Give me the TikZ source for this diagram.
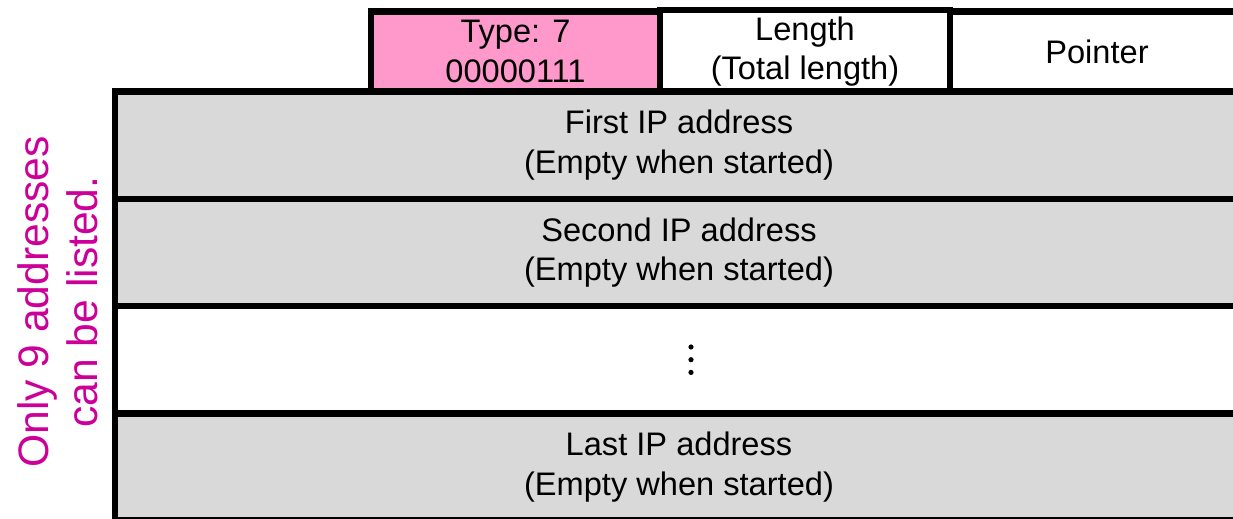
\documentclass[tikz,border=0pt]{standalone}
\usepackage{fontspec}
\setmainfont{Liberation Sans}
\usepackage{tikz}
\usepackage{xcolor}
\definecolor{typepink}{HTML}{FF99CC}
\definecolor{rowgray}{HTML}{D9D9D9}
\definecolor{notemagenta}{HTML}{CC0099}

\begin{document}
\begin{tikzpicture}[x=0.5pt,y=0.5pt,
    cell/.style={draw, line width=3.2pt, outer sep=0pt, align=center,
      minimum height=40pt, font=\fontsize{16.3}{19.6}\selectfont},
    row/.style={draw, line width=3.2pt, outer sep=0pt, align=center,
      fill=rowgray, minimum width=564pt, minimum height=53.65pt,
      font=\fontsize{16.3}{19.6}\selectfont}]
        \useasboundingbox (0,0) rectangle (1233,519);
        \clip (0,0) rectangle (1233,519);
        % option header
        \node[cell, fill=typepink, minimum width=144.5pt] (type) at (515.5,467.5) {Type: 7\\00000111};
        \node[cell, minimum width=145pt] (len) at (805,467.5) {Length\\(Total length)};
        \node[cell, minimum width=147pt] (ptr) at (1097,467.5) {Pointer};
        % address slots
        \node[row] (first) at (679,373.9) {First IP address\\(Empty when started)};
        \node[row, anchor=north] (second) at (first.south) {Second IP address\\(Empty when started)};
        \node[row, anchor=north, fill=white] (more) at (second.south) {};
        \node[row, anchor=north] (last) at (more.south) {Last IP address\\(Empty when started)};
        \foreach \dy in {-12.7,0,12.7}
            \fill (more.center) ++(12,\dy) circle (1.3pt);
        % note
        \node[rotate=90, align=center, text=notemagenta,
          font=\fontsize{21.3}{24.5}\selectfont] (note) at (58,217) {Only 9 addresses\\can be listed.};
    \end{tikzpicture}
\end{document}
